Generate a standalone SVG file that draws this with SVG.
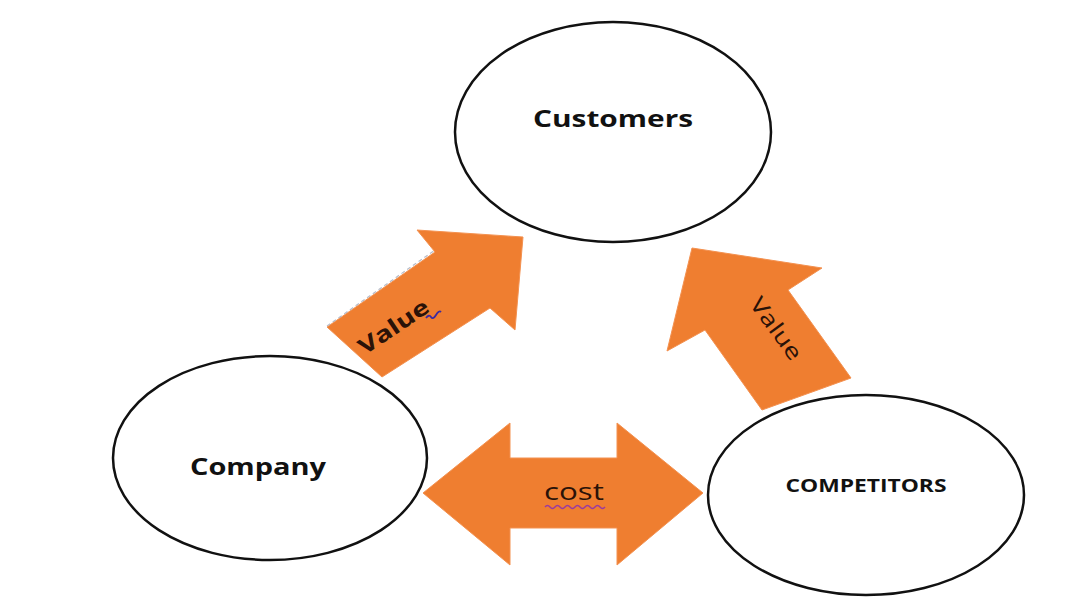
<svg xmlns="http://www.w3.org/2000/svg" width="1080" height="607" viewBox="0 0 1080 607">
<style>
.node{fill:#fff;stroke:#111;stroke-width:2.5}
.lbl{font-family:"Open Sans","Liberation Sans",sans-serif;font-weight:bold;fill:#111;text-anchor:middle}
.arr{fill:#EF7E30;stroke:#F39150;stroke-width:1}
.alb{font-family:"Open Sans","Liberation Sans",sans-serif;fill:#2a1208;text-anchor:middle}
</style>
<rect width="1080" height="607" fill="#fff"/>
<g id="connectors">
  <g id="arrow-company-customers">
    <polygon class="arr" points="523,237 417,230 435,252 327,327 382,377 490,308 515,330"/>
    <line x1="327" y1="326" x2="435" y2="250" stroke="#b8bcc8" stroke-width="1.2" stroke-dasharray="4,3"/>
    <text class="alb" font-weight="bold" font-size="22" transform="translate(398,333) rotate(-34)" textLength="80" lengthAdjust="spacingAndGlyphs">Value</text>
    <path d="M426,318 q3,-4 5,-1 t5,-2 t5,-3" fill="none" stroke="#3a2aa0" stroke-width="1.8"/>
  </g>
  <g id="arrow-competitors-customers">
    <polygon class="arr" points="692,248 822,268 788,290 851,378 762,410 705,330 667,351"/>
    <text class="alb" font-size="22" transform="translate(770,333) rotate(54)" textLength="72" lengthAdjust="spacingAndGlyphs">Value</text>
  </g>
  <g id="arrow-company-competitors">
    <polygon class="arr" points="423,493 510,423 510,458 617,458 617,423 703,493 617,565 617,528 510,528 510,565"/>
    <text class="alb" font-size="24" x="574" y="500" textLength="60" lengthAdjust="spacingAndGlyphs">cost</text>
    <path d="M545,507 q2.5,-3 5,0 t5,0 t5,0 t5,0 t5,0 t5,0 t5,0 t5,0 t5,0 t5,0 t5,0 t5,0" fill="none" stroke="#9a3aa0" stroke-width="1.5"/>
  </g>
</g>
<g id="customers">
  <ellipse class="node" cx="613" cy="132" rx="158" ry="110"/>
  <text class="lbl" x="613" y="127" font-size="23" textLength="160" lengthAdjust="spacingAndGlyphs">Customers</text>
</g>
<g id="company">
  <ellipse class="node" cx="270" cy="458" rx="157" ry="102"/>
  <text class="lbl" x="258" y="475" font-size="23" textLength="136" lengthAdjust="spacingAndGlyphs">Company</text>
</g>
<g id="competitors">
  <ellipse class="node" cx="866" cy="495" rx="158" ry="100"/>
  <text class="lbl" x="866" y="492" font-size="17" textLength="161" lengthAdjust="spacingAndGlyphs">COMPETITORS</text>
</g>
</svg>
